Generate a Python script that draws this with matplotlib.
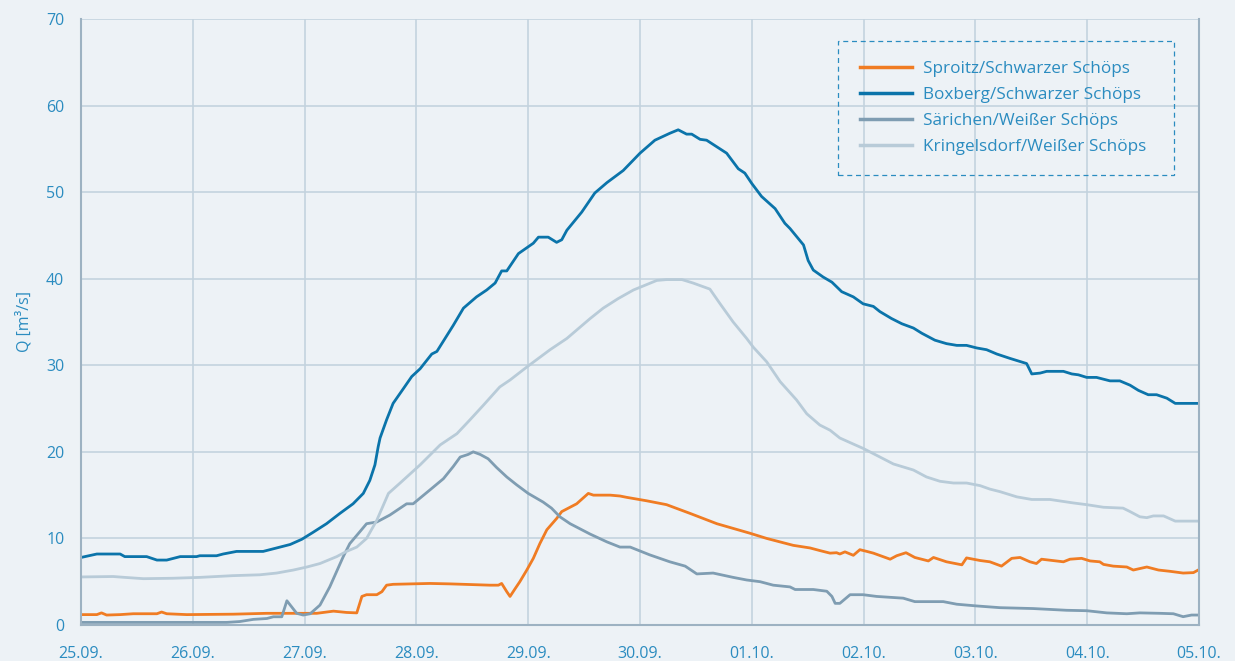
import numpy as np
import matplotlib
matplotlib.use('Agg')
import matplotlib.pyplot as plt
from matplotlib.patches import Rectangle

# Abfluss an vier Pegeln, Stunden ab 25.09. 00:00
day_labels = ['25.09.', '26.09.', '27.09.', '28.09.', '29.09.', '30.09.',
              '01.10.', '02.10.', '03.10.', '04.10.', '05.10.']

sproitz_h = [0, 3.4, 4.4, 5.5, 8.4, 11.2, 16.3, 17.3, 18.4, 22.7, 32.7, 39.9,
             50.6, 54.2, 57.0, 59.2, 60.3, 61.3, 63.5, 64.6, 65.6, 67.0, 74.9,
             79.2, 87.8, 89.6, 90.3, 91.4, 92.1, 93.2, 94.2, 95.7, 97.1, 98.5,
             100.0, 102.1, 103.2, 106.4, 108.9, 110.0, 113.6, 115.7, 117.1,
             121.4, 125.7, 130.7, 136.5, 143.6, 147.2, 152.9, 156.5, 158.6,
             160.8, 162.2, 162.9, 164.0, 165.8, 167.2, 168.7, 170.1, 173.7,
             175.1, 177.1, 179.0, 181.9, 183.0, 185.8, 189.1, 190.1, 193.0,
             195.1, 197.6, 199.8, 201.6, 203.7, 205.1, 206.2, 210.9, 212.3,
             214.8, 216.6, 218.7, 219.5, 221.6, 224.5, 225.9, 228.8, 231.3,
             233.8, 236.6, 238.8, 240]
sproitz_q = [1.2, 1.2, 1.4, 1.15, 1.2, 1.3, 1.3, 1.5, 1.3, 1.2, 1.25, 1.35,
             1.35, 1.6, 1.45, 1.4, 3.3, 3.5, 3.5, 3.85, 4.6, 4.7, 4.8,
             4.75, 4.6, 4.6, 4.8, 3.85, 3.3, 4.2, 5.0, 6.35, 7.7, 9.4,
             11.0, 12.3, 13.1, 14.0, 15.2, 15.0, 15.0, 14.9, 14.75,
             14.35, 13.9, 12.9, 11.7, 10.6, 10.0, 9.2, 8.9, 8.6,
             8.3, 8.35, 8.2, 8.45, 8.05, 8.7, 8.5, 8.3, 7.6,
             8.0, 8.35, 7.8, 7.4, 7.8, 7.3, 6.95, 7.75, 7.45,
             7.3, 6.8, 7.7, 7.8, 7.3, 7.1, 7.6, 7.3, 7.6,
             7.7, 7.4, 7.3, 7.0, 6.8, 6.7, 6.35, 6.7, 6.35,
             6.2, 6.0, 6.05, 6.4]

boxberg_h = [0, 3.4, 8.4, 9.4, 14.1, 16.3, 18.4, 21.3, 24.8, 25.5, 29.1, 30.5,
             33.4, 39.1, 42.0, 44.9, 47.4, 49.8, 52.7, 55.6, 58.4, 60.6, 62.0,
             63.1, 63.8, 64.2, 65.6, 67.0, 69.2, 71.0, 72.8, 75.3, 76.4, 79.9,
             82.1, 84.9, 87.1, 88.9, 90.3, 91.4, 93.9, 97.1, 98.2, 100.3,
             102.1, 103.2, 104.3, 107.5, 110.3, 112.9, 116.4, 120.0, 123.2,
             126.4, 128.2, 130.0, 131.1, 132.9, 134.3, 138.6, 141.1, 142.5,
             144.0, 146.1, 149.0, 151.1, 152.2, 155.1, 156.1, 157.2, 159.3,
             161.2, 163.3, 165.8, 167.9, 170.1, 171.5, 174.0, 176.2, 178.7,
             180.5, 183.3, 185.8, 188.0, 190.1, 192.3, 194.4, 196.6, 199.4,
             203.0, 204.1, 205.9, 207.3, 210.9, 212.7, 214.1, 215.9, 218.0,
             220.9, 223.0, 225.2, 227.0, 229.1, 230.9, 233.1, 234.9, 240]
boxberg_q = [7.8, 8.2, 8.2, 7.9, 7.9, 7.5, 7.5, 7.9, 7.9, 8.0, 8.0, 8.2,
             8.5, 8.5, 8.9, 9.3, 9.9, 10.7, 11.7, 12.9, 14.0, 15.2, 16.7,
             18.5, 20.6, 21.6, 23.7, 25.6, 27.3, 28.7, 29.6, 31.3, 31.6, 34.6,
             36.6, 37.9, 38.7, 39.5, 40.9, 40.9, 42.9, 44.1, 44.8, 44.8,
             44.2, 44.5, 45.6, 47.7, 49.9, 51.1, 52.5, 54.5, 56.0,
             56.8, 57.2, 56.7, 56.7, 56.1, 56.0, 54.5, 52.7, 52.2,
             51.0, 49.5, 48.1, 46.4, 45.8, 43.9, 42.1, 41.0, 40.2,
             39.6, 38.5, 37.9, 37.1, 36.8, 36.2, 35.4, 34.8, 34.3,
             33.7, 32.9, 32.5, 32.3, 32.3, 32.0, 31.8, 31.3, 30.8,
             30.2, 29.0, 29.1, 29.3, 29.3, 29.0, 28.9, 28.6, 28.6,
             28.2, 28.2, 27.7, 27.1, 26.6, 26.6, 26.2, 25.6, 25.6]

saerichen_h = [0, 31.3, 34.1, 37.0, 39.9, 41.3, 43.1, 44.2, 46.3, 47.7, 49.2,
               51.3, 53.4, 56.3, 57.7, 59.9, 61.3, 63.5, 66.3, 69.9, 71.3,
               74.9, 77.8, 79.9, 81.4, 83.1, 84.2, 85.7, 87.4, 89.2, 91.4,
               93.5, 96.0, 99.2, 101.0, 102.8, 105.0, 109.3, 112.9, 115.7,
               117.9, 122.1, 126.4, 129.7, 132.2, 135.7, 140.0, 142.9, 145.8,
               148.6, 152.2, 153.3, 157.2, 160.1, 161.2, 161.9, 162.9, 165.1,
               167.9, 170.8, 176.5, 179.0, 185.1, 188.0, 192.3, 197.3, 204.4,
               211.6, 215.9, 220.2, 224.5, 227.3, 231.6, 234.5, 236.6, 238.4,
               240]
saerichen_q = [0.3, 0.3, 0.4, 0.65, 0.75, 0.95, 0.95, 2.8, 1.35, 1.15, 1.3,
               2.3, 4.4, 7.9, 9.4, 10.8, 11.7, 11.9, 12.7, 14.0, 14.0,
               15.6, 16.9, 18.3, 19.4, 19.7, 20.0, 19.7, 19.2, 18.2, 17.1,
               16.2, 15.2, 14.2, 13.5, 12.5, 11.7, 10.5, 9.6, 9.0,
               9.0, 8.1, 7.3, 6.8, 5.9, 6.0, 5.5, 5.2, 5.0,
               4.6, 4.4, 4.1, 4.1, 3.9, 3.3, 2.5, 2.5, 3.5,
               3.5, 3.3, 3.1, 2.7, 2.7, 2.4, 2.2, 2.0, 1.9,
               1.7, 1.65, 1.4, 1.3, 1.4, 1.35, 1.3, 0.96, 1.15,
               1.15]

kringelsdorf_h = [0, 6.9, 9.4, 13.4, 19.7, 25.5, 32.6, 38.4, 42.0, 45.6, 48.5,
                  51.3, 54.9, 57.0, 59.2, 61.3, 63.5, 66.0, 68.5, 72.8, 77.1,
                  80.7, 83.5, 86.4, 89.9, 92.1, 95.7, 100.7, 104.3, 109.3,
                  112.1, 115.3, 118.6, 123.6, 125.7, 129.0, 131.4, 135.0,
                  137.2, 140.0, 142.9, 144.3, 147.2, 150.1, 153.6, 155.8,
                  158.6, 160.8, 162.9, 165.8, 167.9, 170.8, 174.4, 178.7,
                  181.5, 184.4, 187.3, 190.1, 193.0, 195.1, 197.3, 200.9,
                  204.1, 208.0, 213.0, 215.9, 219.5, 223.7, 225.2, 227.3,
                  228.8, 230.2, 232.4, 234.9, 240]
kringelsdorf_q = [5.55, 5.6, 5.5, 5.35, 5.4, 5.5, 5.7, 5.8, 6.0, 6.35, 6.7,
                  7.1, 7.9, 8.5, 9.0, 10.0, 12.1, 15.2, 16.4, 18.5, 20.8,
                  22.1, 23.7, 25.4, 27.5, 28.3, 29.8, 31.8, 33.1, 35.4,
                  36.6, 37.7, 38.7, 39.8, 39.9, 39.9, 39.5, 38.8,
                  37.1, 35.0, 33.1, 32.1, 30.4, 28.1, 26.0, 24.4,
                  23.1, 22.5, 21.6, 20.9, 20.4, 19.6, 18.6, 17.9,
                  17.1, 16.6, 16.4, 16.4, 16.1, 15.7, 15.4, 14.8,
                  14.5, 14.5, 14.1, 13.9, 13.6, 13.5, 13.1, 12.5,
                  12.4, 12.6, 12.6, 12.0, 12.0]

series = [
    ('Sproitz/Schwarzer Schöps', sproitz_h, sproitz_q, '#f07c23'),
    ('Boxberg/Schwarzer Schöps', boxberg_h, boxberg_q, '#0b74aa'),
    ('Särichen/Weißer Schöps', saerichen_h, saerichen_q, '#7f9db2'),
    ('Kringelsdorf/Weißer Schöps', kringelsdorf_h, kringelsdorf_q, '#b8cbd8'),
]

bg = '#edf2f6'
txt = '#2b8cc0'
grid_c = '#c3d3de'
spine_c = '#9db2c2'

plt.rcParams['font.family'] = ['Open Sans', 'DejaVu Sans']

W, H = 1235, 661
fig = plt.figure(figsize=(W / 100, H / 100), dpi=100, facecolor=bg)
ax = fig.add_axes([81/W, 1 - 625/H, (1199 - 81)/W, (625 - 19)/H])
ax.set_facecolor(bg)

for label, h, q, col in series:
    ax.plot(h, q, color=col, lw=2.0, label=label, solid_joinstyle='round')

ax.set_xlim(0, 240)
ax.set_ylim(0, 70)
ax.set_xticks(np.arange(0, 241, 24))
ax.set_xticklabels(day_labels)
ax.set_yticks(range(0, 71, 10))
ax.tick_params(axis='both', length=0, colors=txt, labelsize=11.5)
ax.tick_params(axis='x', pad=15)
ax.tick_params(axis='y', pad=12)
ax.grid(color=grid_c, lw=1.2)
ax.set_axisbelow(True)

ax.spines['top'].set_visible(False)
for s in ['left', 'bottom', 'right']:
    ax.spines[s].set_color(spine_c)
    ax.spines[s].set_linewidth(1.5)

ax.set_ylabel('Q [m³/s]', color=txt, fontsize=11.5, labelpad=10)

# Legende ohne eigenen Rahmen, gestrichelter Kasten separat
leg = ax.legend(loc='upper left', bbox_to_anchor=(860/W, 1 - 61/H),
                bbox_transform=fig.transFigure, frameon=False,
                fontsize=12.3, labelcolor=txt, handlelength=3.05,
                handletextpad=0.62, labelspacing=0.58, borderpad=0,
                borderaxespad=0)
for line in leg.get_lines():
    line.set_linewidth(2.5)

box = Rectangle((838/W, 1 - 175/H), (1174 - 838)/W, (175 - 41)/H,
                transform=fig.transFigure, fill=False, edgecolor=txt,
                lw=0.9, linestyle=(0, (4, 3)), zorder=5)
fig.add_artist(box)

fig.savefig('out.png', dpi=100, facecolor=bg)
